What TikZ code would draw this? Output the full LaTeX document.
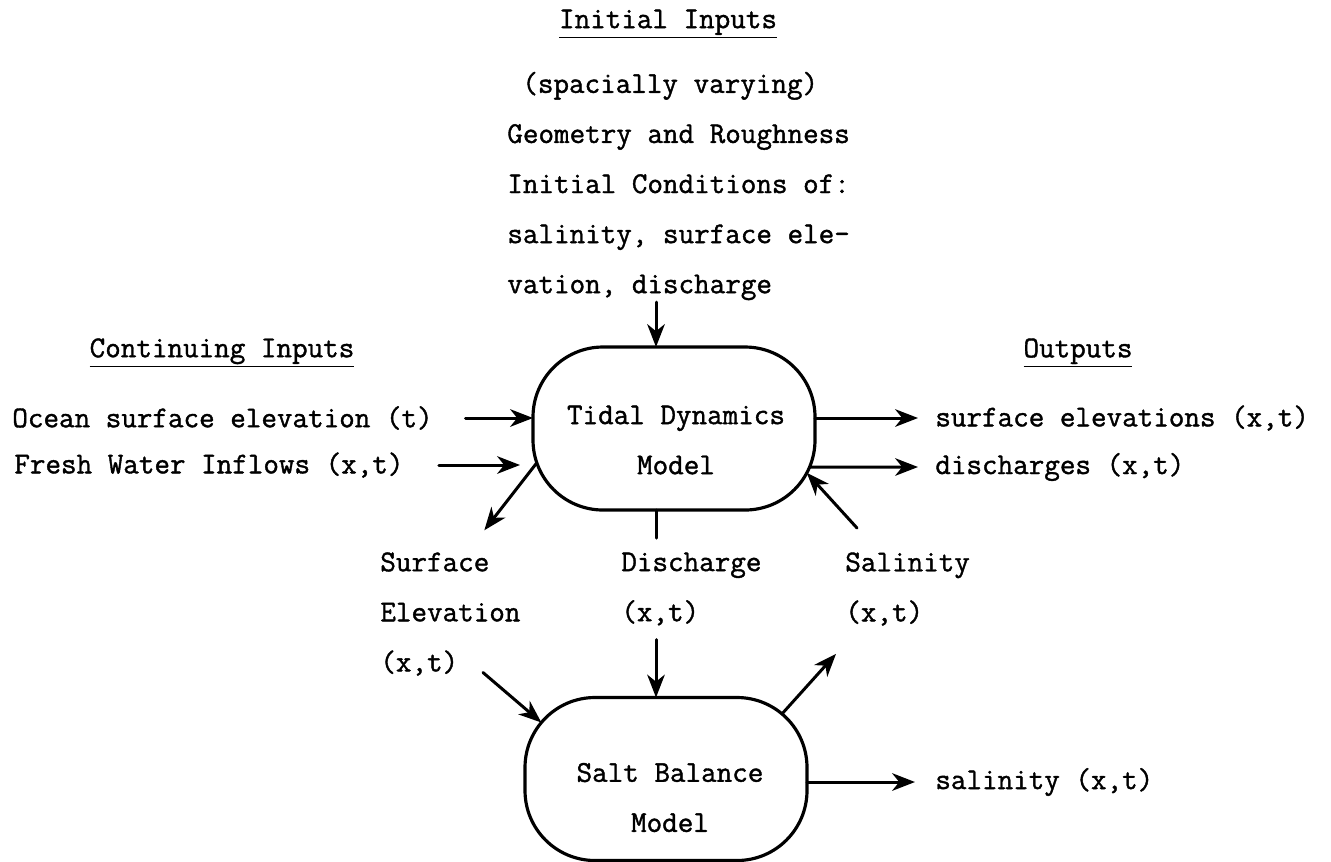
\documentclass[tikz,border=0pt]{standalone}
\usepackage{fontspec}
\setmainfont{Latin Modern Mono}[FakeBold=1.3]
\usetikzlibrary{arrows.meta,calc}
\begin{document}
\begin{tikzpicture}[line cap=round,line join=round,
    txt/.style={inner sep=0pt,font=\fontsize{17.2}{28.5}\selectfont},
    model/.style={draw,line width=1.8pt,rounded corners=1.4cm,outer sep=0pt,
      minimum width=5.64cm,minimum height=3.26cm},
    flow/.style={line width=1.7pt,-{Stealth[length=13pt,width=10pt,inset=4pt]}},
    link/.style={line width=1.7pt}]
  \useasboundingbox (0,0) rectangle (26.62,-17.22);
  % headings
  \node[txt] (hinit) at (13.36,-0.48) {\underline{Initial Inputs}};
  \node[txt] (hcont) at (4.44,-7.06) {\underline{Continuing Inputs}};
  \node[txt] (hout) at (21.56,-7.06) {\underline{Outputs}};
  % the two models
  \node[model] (tidal) at (13.48,-8.57) {};
  \node[txt,align=center] (tidaltxt) at (13.52,-8.8) {Tidal Dynamics\\Model};
  \node[model] (salt) at (13.32,-15.58) {};
  \node[txt,align=center] (salttxt) at (13.4,-15.95) {Salt Balance\\Model};
  % points on the rounded outlines
  \coordinate (tidal-sw) at ($(tidal.south west)+(1.4,1.4)+(199:1.4)$);
  \coordinate (tidal-se) at ($(tidal.south east)+(-1.4,1.4)+(-22.7:1.4)$);
  \coordinate (tidal-ret) at ($(tidal.south east)+(-1.4,1.4)+(-28:1.4)$);
  \coordinate (salt-nw) at ($(salt.north west)+(1.4,-1.4)+(140:1.4)$);
  \coordinate (salt-ne) at ($(salt.north east)+(-1.4,-1.4)+(50:1.4)$);
  % initial inputs
  \node[txt,anchor=west,align=left] (init) at (10.14,-3.72)
    {\hspace*{0.3cm}(spacially varying)\\Geometry and Roughness\\Initial Conditions of:\\salinity, surface ele-\\vation, discharge};
  \draw[flow] ($(tidal.north)+(-0.36,0.9)$) -- ($(tidal.north)+(-0.36,0)$);
  % continuing inputs
  \node[txt,anchor=west] (ocean) at (0.24,-8.36) {Ocean surface elevation (t)};
  \node[txt,anchor=west] (fresh) at (0.28,-9.3) {Fresh Water Inflows (x,t)};
  \draw[flow] ([xshift=0.65cm]ocean.east) -- (tidal.west |- ocean.east);
  \draw[flow] ([xshift=0.7cm]fresh.east) -- ($(tidal.west |- fresh.east)+(-0.26,0)$);
  % outputs
  \node[txt,anchor=west] (selev) at (18.7,-8.36) {surface elevations (x,t)};
  \node[txt,anchor=west] (disch) at (18.7,-9.34) {discharges (x,t)};
  \node[txt,anchor=west] (salin) at (18.7,-15.64) {salinity (x,t)};
  \draw[flow] (tidal.east |- selev.west) -- ([xshift=-0.34cm]selev.west);
  \draw[flow] (tidal-se) -- ([xshift=-0.34cm]disch.west);
  \draw[flow] (salt.east |- salin.west) -- ([xshift=-0.4cm]salin.west);
  % exchange between the models
  \node[txt,anchor=west,align=left] (lsurf) at (7.6,-12.28) {Surface\\Elevation\\(x,t)};
  \node[txt,anchor=west,align=left] (ldisch) at (12.42,-11.78) {Discharge\\(x,t)};
  \node[txt,anchor=west,align=left] (lsalin) at (16.9,-11.78) {Salinity\\(x,t)};
  \coordinate (surf-from) at (9.66,-13.45);
  \coordinate (salin-from) at (17.14,-10.56);
  \draw[flow] (tidal-sw) -- ++(-1.05,-1.35);
  \draw[link] ($(tidal.south)+(-0.36,0)$) -- ++(0,-0.56);
  \draw[flow] ($(salt.north)+(-0.2,1.16)$) -- ($(salt.north)+(-0.2,0)$);
  \draw[flow] (salin-from) -- (tidal-ret);
  \draw[flow] (surf-from) -- (salt-nw);
  \draw[flow] (salt-ne) -- ++(1.08,1.2);
\end{tikzpicture}
\end{document}
